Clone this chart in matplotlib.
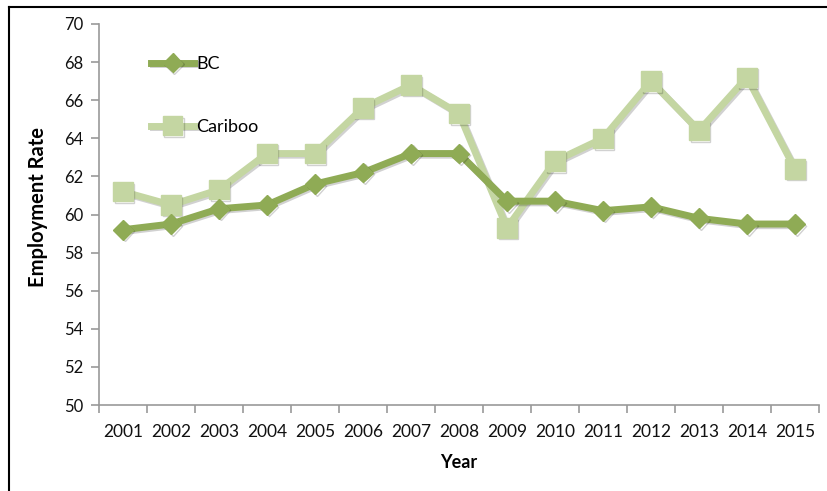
import matplotlib
matplotlib.use("Agg")
import matplotlib.pyplot as plt
import matplotlib.patheffects as pe
from matplotlib.lines import Line2D
import numpy as np

years = ["2001", "2002", "2003", "2004", "2005", "2006", "2007", "2008",
         "2009", "2010", "2011", "2012", "2013", "2014", "2015"]
bc = [59.2, 59.5, 60.3, 60.5, 61.6, 62.2, 63.2, 63.2,
      60.7, 60.7, 60.2, 60.4, 59.8, 59.5, 59.5]
cariboo = [61.2, 60.5, 61.3, 63.2, 63.2, 65.6, 66.8, 65.3,
           59.3, 62.8, 64.0, 67.0, 64.4, 67.2, 62.4]
y_ticks = list(range(50, 71, 2))

BC_COLOR = "#8fab55"
CARIBOO_COLOR = "#c4d6a2"
AXIS_COLOR = "#999999"
FONT = ["Lato", "DejaVu Sans"]

fig = plt.figure(figsize=(8.28, 4.91), dpi=100)
ax = fig.add_axes([99 / 828, 1 - 405 / 491, 720 / 828, 381 / 491])

x = np.arange(len(years))
shadow = [pe.SimpleLineShadow(offset=(1.2, -1.2), alpha=0.18, shadow_color="black"),
          pe.Normal()]

ax.plot(x, cariboo, color=CARIBOO_COLOR, lw=5, marker="s", ms=14,
        label="Cariboo", zorder=3, path_effects=shadow)
ax.plot(x, bc, color=BC_COLOR, lw=5, marker="D", ms=10,
        label="BC", zorder=4, path_effects=shadow)

ax.set_xlim(-0.5, len(years) - 0.5)
ax.set_ylim(50, 70)

# category boundaries carry the tick marks, centres carry the labels
ax.set_xticks(np.arange(-0.5, len(years), 1.0))
ax.set_xticklabels([])
ax.set_xticks(x, minor=True)
ax.set_xticklabels(years, minor=True, fontsize=12.5, family=FONT, color="#111111")
ax.tick_params(axis="x", which="minor", length=0, pad=14)
ax.tick_params(axis="x", which="major", length=6, color=AXIS_COLOR, width=1.2,
               direction="out")

ax.set_yticks(y_ticks)
ax.set_yticklabels([str(v) for v in y_ticks], fontsize=12, family=FONT, color="#111111")
ax.tick_params(axis="y", length=6, color=AXIS_COLOR, width=1.2, direction="out", pad=5)

for side in ("top", "right"):
    ax.spines[side].set_visible(False)
for side in ("left", "bottom"):
    ax.spines[side].set_color(AXIS_COLOR)
    ax.spines[side].set_linewidth(1.2)

ax.set_ylabel("Employment Rate", fontsize=14.5, fontweight="bold", family=FONT)
ax.yaxis.set_label_coords(-0.071, 0.52)
ax.set_xlabel("Year", fontsize=13, fontweight="bold", family=FONT, labelpad=10)

handles, labels = ax.get_legend_handles_labels()
leg = ax.legend(handles[::-1], labels[::-1], loc="upper left",
                bbox_to_anchor=(0.062, 0.935), frameon=False,
                handlelength=2.4, handletextpad=0.1, labelspacing=2.6,
                prop={"family": FONT, "size": 13}, borderaxespad=0)

# frame lines along the left and top of the figure
fig.add_artist(Line2D([9 / 828, 9 / 828], [0, 1 - 7 / 491], color="black", lw=1.5,
                      transform=fig.transFigure))
fig.add_artist(Line2D([9 / 828, 1], [1 - 7 / 491, 1 - 7 / 491], color="black", lw=1.5,
                      transform=fig.transFigure))

fig.savefig("out.png", dpi=100)
